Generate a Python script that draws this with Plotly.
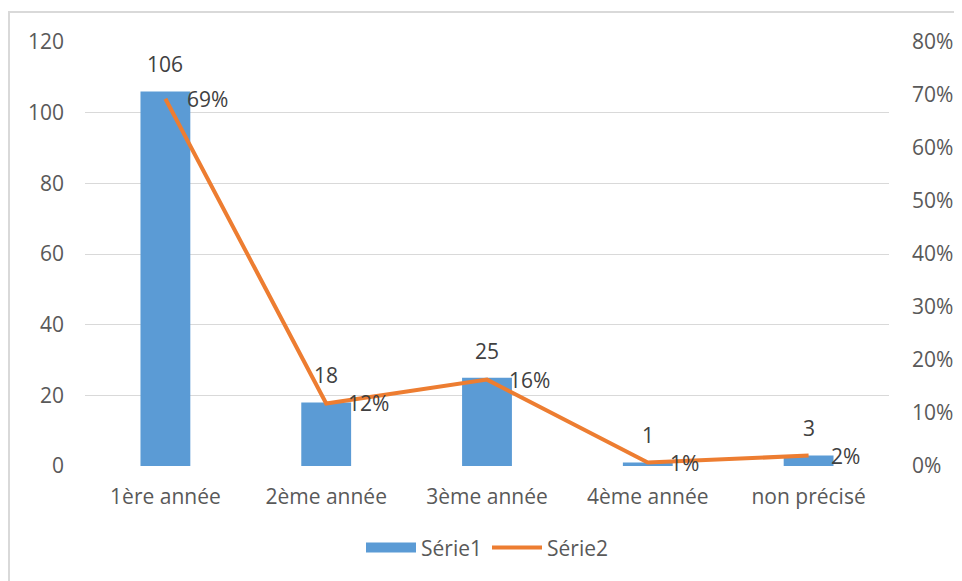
import plotly.graph_objects as go

categories = ["1ère année", "2ème année", "3ème année", "4ème année", "non précisé"]
serie1 = [106, 18, 25, 1, 3]
serie2 = [0.693, 0.118, 0.163, 0.0065, 0.0196]
left_ticks = [0, 20, 40, 60, 80, 100, 120]
right_ticks = [0, 0.1, 0.2, 0.3, 0.4, 0.5, 0.6, 0.7, 0.8]

FONT = "Open Sans"
FS = 21
TICK_COLOR = "#595959"
LABEL_COLOR = "#404040"
BLUE = "#5B9BD5"
ORANGE = "#ED7D31"

fig = go.Figure()
fig.add_trace(go.Bar(x=categories, y=serie1, name="Série1", marker_color=BLUE,
                     marker_line_width=0, yaxis="y", showlegend=False))
# legend proxy for the bars (wide rectangle like the reference)
fig.add_trace(go.Scatter(x=categories, y=[None] * len(categories), name="Série1", mode="lines",
                         line=dict(color=BLUE, width=13), yaxis="y", hoverinfo="skip"))
fig.add_trace(go.Scatter(x=categories, y=serie2, name="Série2", mode="lines",
                         line=dict(color=ORANGE, width=4), yaxis="y2"))

annotations = []
for c, v in zip(categories, serie1):
    annotations.append(dict(x=c, y=v, xref="x", yref="y", text=str(v), showarrow=False,
                            yanchor="bottom", yshift=11,
                            font=dict(family=FONT, size=FS, color=LABEL_COLOR)))
for c, v in zip(categories, serie2):
    annotations.append(dict(x=c, y=v, xref="x", yref="y2", text=f"{v:.0%}", showarrow=False,
                            xanchor="left", xshift=20, yanchor="middle",
                            font=dict(family=FONT, size=FS, color=LABEL_COLOR)))

fig.update_layout(
    width=962, height=581,
    margin=dict(l=77, r=81, t=34, b=123),
    paper_bgcolor="white", plot_bgcolor="white",
    font=dict(family=FONT, size=FS, color=TICK_COLOR),
    bargap=0.69,
    showlegend=True,
    legend=dict(orientation="h", x=0.5, xanchor="center", y=-0.193, yanchor="middle",
                font=dict(family=FONT, size=FS, color=TICK_COLOR), itemwidth=50,
                traceorder="normal"),
    xaxis=dict(showgrid=False, showline=False, ticks="", ticklabelstandoff=16,
               tickfont=dict(family=FONT, size=FS, color=TICK_COLOR), zeroline=False),
    yaxis=dict(range=[0, 120], tickvals=left_ticks, showgrid=True, gridcolor="#D9D9D9",
               gridwidth=1, zeroline=False, showline=False, ticks="",
               ticklabelstandoff=20,
               tickfont=dict(family=FONT, size=FS, color=TICK_COLOR)),
    yaxis2=dict(range=[0, 0.8], tickvals=right_ticks, tickformat=".0%", overlaying="y",
                side="right", showgrid=False, zeroline=False, showline=False, ticks="",
                ticklabelstandoff=22,
                tickfont=dict(family=FONT, size=FS, color=TICK_COLOR)),
    annotations=annotations,
    shapes=[dict(type="rect", xref="paper", yref="paper", x0=-0.0945, x1=1.3,
                 y0=-0.5, y1=1.0708, line=dict(color="#D9D9D9", width=2),
                 fillcolor="rgba(0,0,0,0)", layer="below")],
)

fig.write_html("out.html")
